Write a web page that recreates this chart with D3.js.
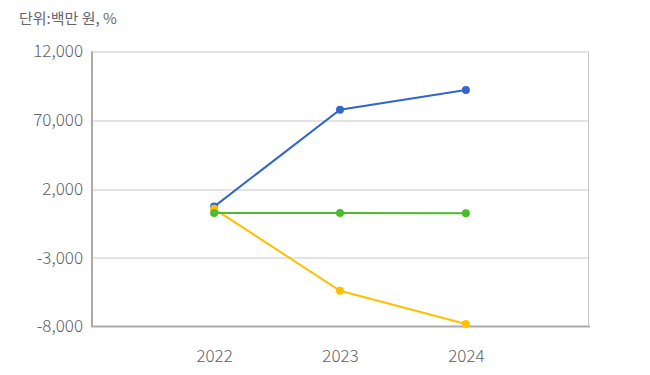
<!DOCTYPE html>
<html>
<head>
<meta charset="utf-8">
<script src="https://cdn.jsdelivr.net/npm/d3@7"></script>
<style>
  body { margin: 0; background: #fff; }
  text { font-family: "Noto Sans CJK KR", "Noto Sans", sans-serif; }
</style>
</head>
<body>
<div id="chart"></div>
<script>
// chart data
var years = ["2022", "2023", "2024"];
var seriesBlue = [720, 7770, 9200];
var seriesYellow = [560, -5400, -7820];
var seriesGreen = [255, 255, 240];
var tickValues = [12000, 7000, 2000, -3000, -8000];
var tickLabels = ["12,000", "70,000", "2,000", "-3,000", "-8,000"];

var fullWidth = 650, fullHeight = 375;
var margin = {top: 51.5, right: 62, bottom: 48.5, left: 92},
    width = fullWidth - margin.left - margin.right,
    height = fullHeight - margin.top - margin.bottom;

var svg = d3.select("#chart").append("svg")
    .attr("width", fullWidth)
    .attr("height", fullHeight);

svg.append("text")
    .attr("x", 19)
    .attr("y", 24)
    .attr("font-size", 15)
    .attr("fill", "#66666e")
    .text("단위:백만 원, %");

var g = svg.append("g")
    .attr("transform", "translate(" + margin.left + "," + margin.top + ")");

var xScale = d3.scalePoint()
    .domain(years)
    .range([0, width])
    .padding(0.97);

var yScale = d3.scaleLinear()
    .domain([-8000, 12000])
    .range([height, 0]);

// grid lines
g.selectAll(".grid")
    .data(tickValues.slice(0, 4))
    .enter().append("line")
    .attr("class", "grid")
    .attr("x1", 0)
    .attr("x2", width)
    .attr("y1", function(d) { return Math.round(yScale(d)) + 0.5; })
    .attr("y2", function(d) { return Math.round(yScale(d)) + 0.5; })
    .attr("stroke", "#c8c8c8")
    .attr("stroke-width", 1);

// right border
g.append("line")
    .attr("x1", width + 0.5).attr("x2", width + 0.5)
    .attr("y1", yScale(12000)).attr("y2", height)
    .attr("stroke", "#c8c8c8");

// y axis
var yAxis = d3.axisLeft(yScale)
    .tickValues(tickValues)
    .tickSize(0)
    .tickPadding(9)
    .tickFormat(function(d, i) { return tickLabels[i]; });

var yG = g.append("g").call(yAxis);
yG.select(".domain").remove();
yG.selectAll("text")
    .attr("font-size", 17)
    .attr("font-weight", 300)
    .attr("fill", "#5e5e68")
    .style("font-family", "'Noto Sans CJK KR', sans-serif");

g.append("line")
    .attr("x1", 0).attr("x2", 0)
    .attr("y1", yScale(12000)).attr("y2", height)
    .attr("stroke", "#ababab")
    .attr("stroke-width", 2);

// x axis
var xAxis = d3.axisBottom(xScale)
    .tickSize(0)
    .tickPadding(23);

var xG = g.append("g")
    .attr("transform", "translate(0," + height + ")")
    .call(xAxis);
xG.select(".domain").remove();
xG.selectAll("text")
    .attr("font-size", 17)
    .attr("font-weight", 300)
    .attr("fill", "#5e5e68")
    .style("font-family", "'Noto Sans CJK KR', sans-serif");

g.append("line")
    .attr("x1", -1).attr("x2", width + 2)
    .attr("y1", height).attr("y2", height)
    .attr("stroke", "#ababab")
    .attr("stroke-width", 2);

// series lines
var series = [
    {values: seriesBlue, color: "#3366cc"},
    {values: seriesYellow, color: "#ffc000"},
    {values: seriesGreen, color: "#4cbb2c"}
];

var line = d3.line()
    .x(function(d, i) { return xScale(years[i]); })
    .y(function(d) { return yScale(d); });

var sg = g.selectAll(".series")
    .data(series)
    .enter().append("g")
    .attr("class", "series");

sg.append("path")
    .attr("d", function(d) { return line(d.values); })
    .attr("fill", "none")
    .attr("stroke", function(d) { return d.color; })
    .attr("stroke-width", 2);

sg.selectAll("circle")
    .data(function(d) { return d.values.map(function(v, i) { return {v: v, i: i, color: d.color}; }); })
    .enter().append("circle")
    .attr("cx", function(d) { return xScale(years[d.i]); })
    .attr("cy", function(d) { return yScale(d.v); })
    .attr("r", 4)
    .attr("fill", function(d) { return d.color; });
</script>
</body>
</html>
